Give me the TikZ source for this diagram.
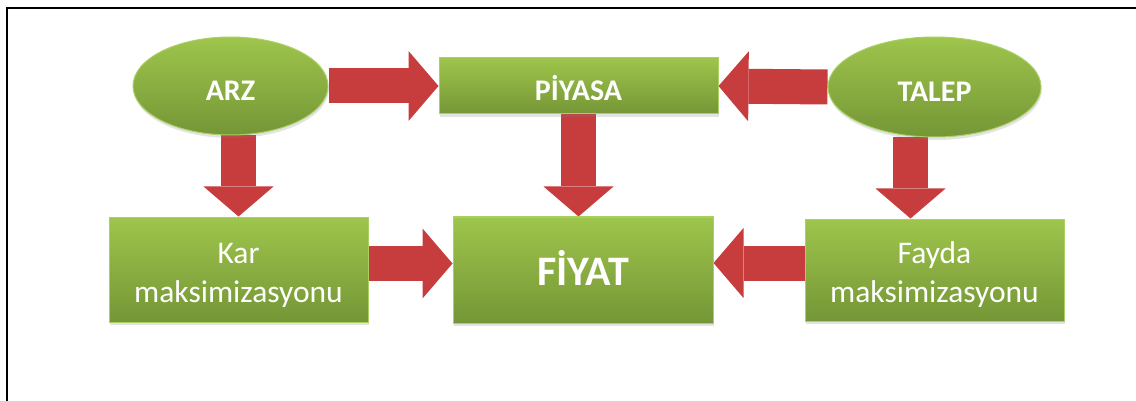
\documentclass[tikz,border=0pt]{standalone}
\usepackage{fontspec}
\setmainfont{Carlito}
\usetikzlibrary{shapes.geometric,shadows,arrows.meta,backgrounds}
\definecolor{leafgreen}{RGB}{158,197,76}
\definecolor{mossgreen}{RGB}{117,150,54}
\definecolor{rimgreen}{RGB}{170,207,98}
\definecolor{arrowred}{RGB}{199,60,60}
\tikzset{frame/.style={line width=2.2pt, black}}
\tikzset{bigarrow/.style={line width=35pt, arrowred, -{Triangle[width=70pt,length=30pt,line width=0pt]}}}
\tikzset{heading/.style={font=\bfseries\fontsize{30}{36}\selectfont, text height=29pt, text depth=0pt}}
\tikzset{plain/.style={font=\fontsize{31.5}{39}\selectfont, text height=65pt, text depth=0pt}}

\begin{document}
\begin{tikzpicture}[x=1pt,y=-1pt]
	% Default action for each node
	\tikzstyle{every node}=[text=white, align=center, inner sep=0pt, line width=1pt, draw=rimgreen, top color=leafgreen, bottom color=mossgreen, drop shadow={shadow xshift=0.8pt, shadow yshift=-3pt, opacity=0.22}];

	\useasboundingbox (0,0) rectangle (1136,401);

	% Frame
	\coordinate (frame south) at (7,401);	\coordinate (frame northwest) at (7,8);	\coordinate (frame northeast) at (1136,8);
	\draw[frame] (frame south) -- (frame northwest) -- (frame northeast);

	% TOP ROW
	\node[ellipse, heading, minimum width=195pt, minimum height=98pt] (arz) at (230.5,86) {ARZ};
	\node[rectangle, heading, minimum width=279pt, minimum height=56pt] (piyasa) at (578.5,86) {PİYASA};
	\node[ellipse, heading, minimum width=213pt, minimum height=100pt] (talep) at (934.5,87) {TALEP};

	% BOTTOM ROW
	\node[rectangle, plain, minimum width=259pt, minimum height=105pt] (kar) at (238.5,269.5) {Kar\\maksimizasyonu};
	\node[rectangle, font=\bfseries\fontsize{42}{50}\selectfont, text height=30pt, text depth=0pt, minimum width=260pt, minimum height=106pt] (fiyat) at (583,270) {FİYAT};
	\node[rectangle, plain, text height=64pt, minimum width=259pt, minimum height=102pt] (fayda) at (934.5,270) {Fayda\\maksimizasyonu};

	% Helper points
	\coordinate (talep foot) at ([xshift=-24pt]talep.south);
	\coordinate (kar mouth) at ([yshift=6pt]kar.east);
	\coordinate (fayda mouth) at ([yshift=7pt]fayda.west);

	% Arrows
	\begin{scope}[on background layer]
		\draw[bigarrow] (arz.east) -- (piyasa.west);
		\draw[bigarrow] (talep.west) -- (piyasa.east);

		\draw[bigarrow] (arz.south -| kar.north) -- (kar.north);
		\draw[bigarrow] (piyasa.south) -- (piyasa.south |- fiyat.north);
		\draw[bigarrow] (talep foot) -- (talep foot |- fayda.north);

		\draw[bigarrow] (kar mouth) -- (kar mouth -| fiyat.west);
		\draw[bigarrow] (fayda mouth) -- (fayda mouth -| fiyat.east);
	\end{scope}
\end{tikzpicture}
\end{document}
